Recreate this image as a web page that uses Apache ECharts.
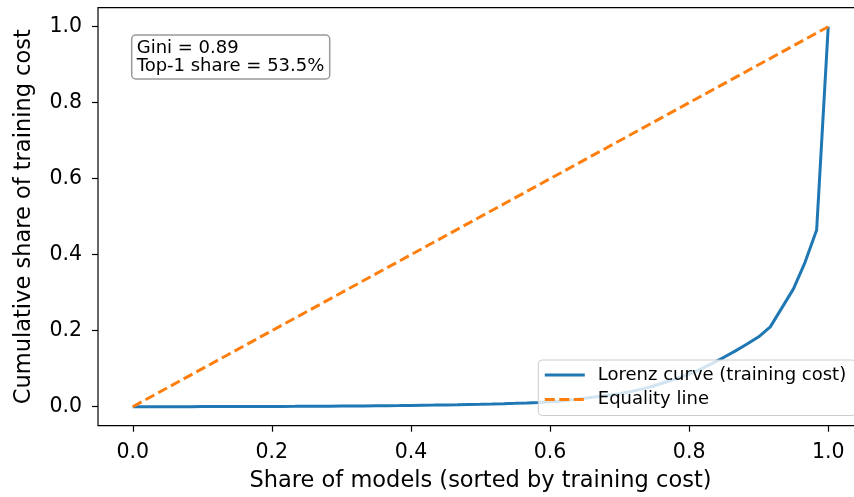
<!DOCTYPE html>
<html>
<head>
<meta charset="utf-8">
<title>Lorenz curve of training cost</title>
<script src="https://cdn.jsdelivr.net/npm/echarts@6/dist/echarts.min.js"></script>
<style>
html, body { margin: 0; padding: 0; background: #fff; }
#chart { width: 854px; height: 497px; }
</style>
</head>
<body>
<div id="chart"></div>
<script>
// cumulative share of training cost, models sorted by cost (61 points, 0..60)
var cumShare = [
	0, 0.00001, 0.00003, 0.00006, 0.0001, 0.00015, 0.0002, 0.00026, 0.00033, 0.00041,
	0.0005, 0.0006, 0.0007, 0.0008, 0.0009, 0.0011, 0.0013, 0.0015, 0.0017, 0.0019,
	0.0021, 0.0024, 0.0027, 0.0030, 0.0034, 0.0038, 0.0042, 0.0047, 0.0052, 0.0058,
	0.0064, 0.0071, 0.0079, 0.0088, 0.0098, 0.0112, 0.013, 0.015, 0.018, 0.022,
	0.026, 0.030, 0.034, 0.040, 0.047, 0.055, 0.065, 0.075, 0.086, 0.099,
	0.114, 0.130, 0.147, 0.165, 0.184, 0.210, 0.260, 0.310, 0.380, 0.465,
	1.0
];
var equality = [[0, 0], [1, 1]];
var tickValues = [0, 0.2, 0.4, 0.6, 0.8, 1.0];
var noteLines = ['Gini = 0.89', 'Top-1 share = 53.5%'];

var font = 'DejaVu Sans';
var lorenz = cumShare.map(function (v, i) {
	return [i / (cumShare.length - 1), v];
});

var myChart = echarts.init(document.getElementById('chart'), null, { renderer: 'canvas' });

function axisCommon() {
	return {
		type: 'value',
		min: -0.05,
		max: 1.05,
		axisLine: { show: false, onZero: false },
		splitLine: { show: false },
		axisTick: { show: true, customValues: tickValues, length: 6, lineStyle: { color: '#000', width: 1.2 } },
		axisLabel: {
			customValues: tickValues,
			formatter: function (v) { return v.toFixed(1); },
			fontFamily: font, fontSize: 20.5, color: '#000'
		},
		nameLocation: 'middle',
		nameTextStyle: { fontFamily: font, fontSize: 22.5, color: '#000' }
	};
}

var xAxis = axisCommon();
xAxis.name = 'Share of models (sorted by training cost)';
xAxis.nameGap = 44;
xAxis.axisLabel.margin = 16.5;

var yAxis = axisCommon();
yAxis.name = 'Cumulative share of training cost';
yAxis.nameGap = 62;
yAxis.axisLabel.margin = 16;

var option = {
	animation: false,
	backgroundColor: '#fff',
	grid: {
		left: 98, top: 7.7, width: 765, bottom: 71.3,
		outerBoundsMode: 'none',
		show: true, borderColor: '#000', borderWidth: 1.2, backgroundColor: 'transparent'
	},
	title: {
		text: noteLines.join('\n'),
		left: 131.7, top: 35,
		padding: [5, 6, 4, 5],
		backgroundColor: '#fff',
		borderColor: '#999',
		borderWidth: 1.5,
		borderRadius: 4,
		textStyle: { fontFamily: font, fontSize: 18, fontWeight: 'normal', color: '#000', lineHeight: 17.5 }
	},
	legend: {
		orient: 'vertical',
		left: 538.3, top: 360,
		padding: [5, 10, 6, 5],
		itemWidth: 40, itemHeight: 14, itemGap: 4.5,
		backgroundColor: 'rgba(255,255,255,0.8)',
		borderColor: '#cccccc', borderWidth: 1, borderRadius: 4,
		itemStyle: { opacity: 0 },
		textStyle: { fontFamily: font, fontSize: 18, color: '#000', lineHeight: 20, padding: [0, 0, 0, 8] },
		data: [
			{ name: 'Lorenz curve (training cost)', lineStyle: { width: 3, color: '#1f77b4' } },
			{ name: 'Equality line', lineStyle: { width: 3, color: '#ff7f0e', type: [10, 4.5] } }
		]
	},
	xAxis: xAxis,
	yAxis: yAxis,
	series: [
		{
			name: 'Lorenz curve (training cost)',
			type: 'line',
			data: lorenz,
			symbol: 'none',
			lineStyle: { color: '#1f77b4', width: 3 },
			itemStyle: { color: '#1f77b4' },
			z: 2
		},
		{
			name: 'Equality line',
			type: 'line',
			data: equality,
			symbol: 'none',
			lineStyle: { color: '#ff7f0e', width: 3, type: [10, 4.5] },
			itemStyle: { color: '#ff7f0e' },
			z: 3
		}
	]
};
myChart.setOption(option);
</script>
</body>
</html>
